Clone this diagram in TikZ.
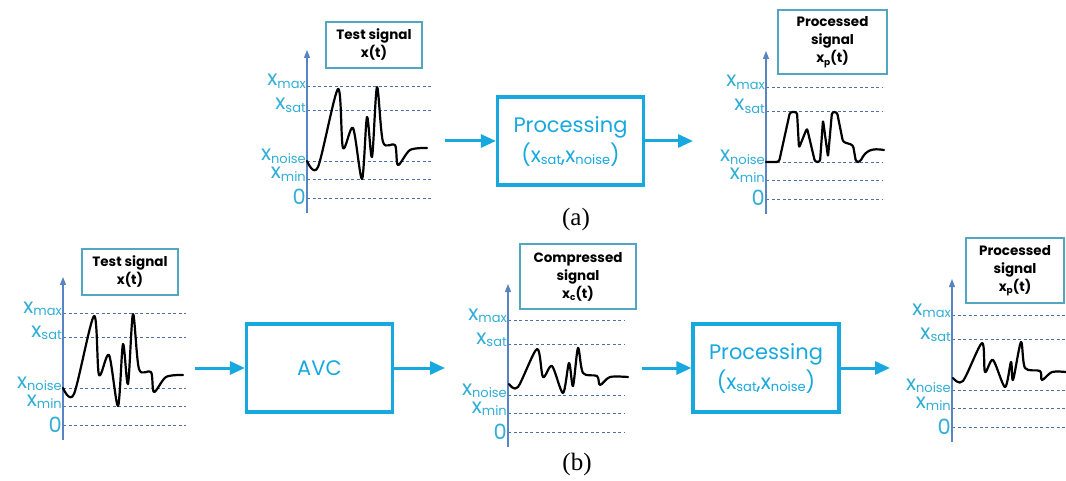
\documentclass[tikz,border=0pt]{standalone}
\usepackage{fontspec}
\setmainfont{Liberation Serif}
\newfontfamily\gothic{Poppins}
\usepackage{tikz}
\usetikzlibrary{arrows.meta, positioning}
\definecolor{flowblue}{RGB}{22,168,222}
\definecolor{lvtext}{RGB}{48,174,214}
\definecolor{axisblue}{RGB}{88,132,196}
\definecolor{gridblue}{RGB}{78,112,168}
\definecolor{tagline}{RGB}{82,166,192}
% lowered subscript in the current family
\newcommand{\lo}[2][13]{\raisebox{-2.5pt}{\fontsize{#1}{#1}\selectfont #2}}

\begin{document}
\begin{tikzpicture}[
    x=1pt, y=-1pt,
    tag/.style={rectangle, draw=tagline, line width=1.1pt, align=center, inner sep=0pt,
                font=\gothic\bfseries\fontsize{13.5}{18}\selectfont},
    block/.style={rectangle, draw=flowblue, line width=3.2pt, align=center, text=flowblue,
                  minimum width=146pt, minimum height=88pt, font=\gothic\fontsize{21}{30}\selectfont},
    lvlabel/.style={text=lvtext, inner sep=0pt, font=\gothic\fontsize{21}{21}\selectfont},
    level/.style={gridblue, line width=0.8pt, dash pattern=on 3pt off 2.5pt},
    axis/.style={axisblue, line width=1.2pt, -{Triangle[length=8pt, width=6pt]}},
    wave/.style={black, line width=2.2pt, line join=round, line cap=round},
    flow/.style={flowblue, line width=3pt, -{Triangle[length=15pt, width=13pt]}}
]
    \useasboundingbox (0,0) rectangle (1066,481);

    % axes and threshold levels of the five plots
    \foreach \g/\ax/\ay/\xe in {a1/307/86/432, a2/766/87/882, b1/63/313/186, b2/508/320/625, b3/952/315/1066} {
        \foreach \lv/\dy in {max/0, sat/24, noise/75, min/93} {
            \draw[level] (\ax,\ay+\dy) -- (\xe,\ay+\dy);
            \node[lvlabel, anchor=base east] (\g-\lv) at (\ax-1,\ay+\dy) {x\lo{\lv}};
        }
        \draw[level] (\ax,\ay+112) -- (\xe,\ay+112);
        \node[lvlabel, anchor=base east] (\g-zero) at (\ax-1,\ay+119) {0};
        \draw[axis] (\ax,\ay+127) -- (\ax,\ay-36);
    }

    % signal names
    \node[tag, minimum width=96pt, minimum height=46pt] (tag-a1) at (374,45) {Test signal\\x(t)};
    \node[tag, minimum width=109pt, minimum height=64pt] (tag-a2) at (832.5,42) {Processed\\signal\\x\lo[9]{p}(t)};
    \node[tag, minimum width=96pt, minimum height=46pt] (tag-b1) at (130,272) {Test signal\\x(t)};
    \node[tag, minimum width=116pt, minimum height=65pt] (tag-b2) at (578,276.5) {Compressed\\signal\\x\lo[9]{c}(t)};
    \node[tag, minimum width=98pt, minimum height=65pt] (tag-b3) at (1015,270.5) {Processed\\signal\\x\lo[9]{p}(t)};

    % test signal, same trace in (a) and (b)
    \foreach \sx/\sy in {0/0, -244/227}
        \draw[wave, shift={(\sx,\sy)}] plot[smooth, tension=0.5] coordinates {
            (307,161) (318,167) (338,89) (343,148) (353,128) (362,179) (367,117)
            (372,157) (377,87) (383,142) (395,145) (398,165) (410,150) (427,148)};

    % clipped output of (a)
    \draw[wave, rounded corners=2.5pt] (766,162) -- (779,162) -- (790,112) -- (797,112)
        -- (799,148) -- (807,128) -- (815,162) -- (820,162) -- (823,120) -- (828,157)
        -- (832,112) -- (837,112) -- (843,142) -- (853,145) -- (856,162) -- (860,162)
        .. controls (866,150) and (872,148) .. (884,150);

    % compressed signal
    \draw[wave] plot[smooth, tension=0.5] coordinates {
        (509,384) (518,387) (537,349) (543,377) (552,366) (563,393) (569,363)
        (573,386) (578,348) (583,373) (597,376) (600,385) (610,377) (628,377)};

    % processed output of (b)
    \draw[wave] plot[smooth, tension=0.5] coordinates {
        (953,378) (963,381) (982,343) (985,372) (993,360) (1005,387) (1011,362)
        (1013,380) (1021,342) (1025,368) (1040,371) (1042,380) (1052,372) (1066,372)};

    % processing chains
    \node[block] (proca) at (570.5,141) {Processing\\(x\lo{sat},x\lo{noise})};
    \node[block] (avc) at (319.5,368) {AVC};
    \node[block] (procb) at (766,368) {Processing\\(x\lo{sat},x\lo{noise})};

    \coordinate (a-in) at (445,141);
    \coordinate (a-out) at (693,141);
    \coordinate (b-in) at (195,368);
    \coordinate (b-mid) at (445,368);
    \coordinate (b-mid2) at (642,368);
    \coordinate (b-out) at (890,368);

    \draw[flow] (a-in) -- (proca);
    \draw[flow] (proca) -- (a-out);
    \draw[flow] (b-in) -- (avc);
    \draw[flow] (avc) -- (b-mid);
    \draw[flow] (b-mid2) -- (procb);
    \draw[flow] (procb) -- (b-out);

    \node[font=\fontsize{25}{25}\selectfont] (cap-a) at (576,219) {(a)};
    \node[font=\fontsize{25}{25}\selectfont] (cap-b) at (577,464) {(b)};
\end{tikzpicture}
\end{document}
